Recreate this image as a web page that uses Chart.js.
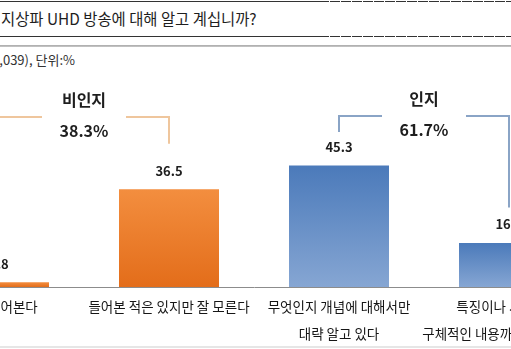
<!DOCTYPE html>
<html>
<head>
<meta charset="utf-8">
<script src="https://cdn.jsdelivr.net/npm/chart.js@4/dist/chart.umd.min.js"></script>
<style>
  html, body { margin: 0; padding: 0; background: #fff; }
  #wrap { position: relative; width: 511px; height: 349px; overflow: hidden;
          font-family: "Noto Sans CJK KR", "Noto Sans", sans-serif; color: #222; }
  .rule { position: absolute; left: 0; width: 511px; height: 1px;
          background: linear-gradient(to right, #333 0, #333 328px, transparent 328px),
                      repeating-linear-gradient(to right, #333 0 10px, #fff 10px 11px); }
  #title { position: absolute; left: 1px; top: 8px; height: 20px; line-height: 20px;
           font-size: 15.4px; white-space: nowrap; color: #1e1e1e; }
  #band { position: absolute; left: 0; top: 45px; width: 511px; height: 2px;
          background: linear-gradient(#a9a9a9, #c8c8c8); }
  #sub { position: absolute; left: 75px; top: 52px; line-height: 16px; font-size: 13px;
         white-space: nowrap; transform: translateX(-100%); color: #333; }
  #foot { position: absolute; left: 0; top: 346px; width: 511px; height: 2px; background: #e6e6e6; }
  #plot { position: absolute; left: -86px; top: 0; width: 680px; height: 349px; }
</style>
</head>
<body>
<div id="wrap">
  <div class="rule" style="top:1px"></div>
  <div id="title">지상파 UHD 방송에 대해 알고 계십니까?</div>
  <div class="rule" style="top:36px"></div>
  <div id="band"></div>
  <div id="sub">(N=1,039), 단위:%</div>
  <div id="plot"><canvas id="c" width="680" height="349"></canvas></div>
  <div id="foot"></div>
</div>
<script>
// Answer categories (multi-line tick labels) and their shares in %
const categories = [
  ['처음 들어본다'],
  ['들어본 적은 있지만 잘 모른다'],
  ['무엇인지 개념에 대해서만', '대략 알고 있다'],
  ['특징이나 서비스 등', '구체적인 내용까지 잘 알고 있다']
];
const shares = [1.8, 36.5, 45.3, 16.4];

// Awareness groups: name and the categories each one spans
const groupNames = ['비인지', '인지'];
const groupMembers = [[0, 1], [2, 3]];

const FONT = '"Noto Sans CJK KR", "Noto Sans", sans-serif';
Chart.defaults.font.family = FONT;

// bar fills: orange for the "not aware" group, blue for the "aware" group
const barPalette = [
  ['#f38e3f', '#e36d1a'],
  ['#f38e3f', '#e36d1a'],
  ['#4b7aba', '#86a6d3'],
  ['#4b7aba', '#86a6d3']
];

function barFill(context) {
  const chart = context.chart;
  const i = context.dataIndex;
  const area = chart.chartArea;
  if (!area || i === undefined) return barPalette[0][0];
  const top = chart.scales.y.getPixelForValue(shares[i]);
  const g = chart.ctx.createLinearGradient(0, top, 0, area.bottom);
  g.addColorStop(0, barPalette[i][0]);
  g.addColorStop(1, barPalette[i][1]);
  return g;
}

// value labels above the bars plus the group brackets with their totals
const annotate = {
  id: 'annotate',
  afterDatasetsDraw(chart, args, opts) {
    const ctx = chart.ctx;
    const bars = chart.getDatasetMeta(0).data;
    ctx.save();
    ctx.textAlign = 'center';
    ctx.textBaseline = 'middle';
    ctx.fillStyle = '#1e1e1e';
    ctx.font = 'bold 13px ' + FONT;
    const labelY = bars.map((bar, i) => {
      const ly = bar.y - opts.valueGap;
      ctx.fillText(shares[i].toFixed(1), bar.x, ly);
      return ly;
    });

    groupMembers.forEach((members, g) => {
      const a = members[0], b = members[members.length - 1];
      const xa = Math.round(bars[a].x), xb = Math.round(bars[b].x);
      const mid = (bars[a].x + bars[b].x) / 2;
      const ly = opts.bracketY[g];
      ctx.strokeStyle = opts.bracketColors[g];
      ctx.lineWidth = 2;
      ctx.beginPath();
      ctx.moveTo(xa, labelY[a] - opts.drop[a]);
      ctx.lineTo(xa, ly);
      ctx.lineTo(mid - opts.gap, ly);
      ctx.moveTo(mid + opts.gap, ly);
      ctx.lineTo(xb, ly);
      ctx.lineTo(xb, labelY[b] - opts.drop[b]);
      ctx.stroke();

      const total = members.reduce((s, i) => s + shares[i], 0);
      ctx.fillStyle = '#1e1e1e';
      ctx.font = 'bold 16px ' + FONT;
      ctx.fillText(groupNames[g], mid, ly - 17);
      ctx.fillText(total.toFixed(1) + '%', mid, ly + 14);
    });
    ctx.restore();
  }
};

new Chart(document.getElementById('c'), {
  type: 'bar',
  data: {
    labels: categories,
    datasets: [{
      data: shares,
      backgroundColor: barFill,
      borderWidth: 0,
      categoryPercentage: 1,
      barPercentage: 100 / 170
    }]
  },
  options: {
    responsive: false,
    animation: false,
    devicePixelRatio: 1,
    layout: { padding: { top: 19, left: 0, right: 0, bottom: 0 } },
    plugins: {
      legend: { display: false },
      tooltip: { enabled: false },
      annotate: {
        valueGap: 18.5,
        bracketY: [117, 116],
        bracketColors: ['#efc69d', '#8aa4c6'],
        gap: 42,
        drop: [51, 27, 15, 17]
      }
    },
    scales: {
      x: {
        grid: { display: false, drawTicks: false },
        border: { display: true, color: '#8c8c8c', width: 1 },
        ticks: {
          color: '#161616',
          font: { size: 13.5, lineHeight: '27px' },
          padding: 6.5,
          autoSkip: false,
          maxRotation: 0,
          minRotation: 0
        },
        afterFit(scale) {
          scale.height = 62;
          scale.paddingLeft = 0;
          scale.paddingRight = 0;
        }
      },
      y: {
        display: false,
        min: 0,
        max: 100
      }
    }
  },
  plugins: [annotate]
});
</script>
</body>
</html>
